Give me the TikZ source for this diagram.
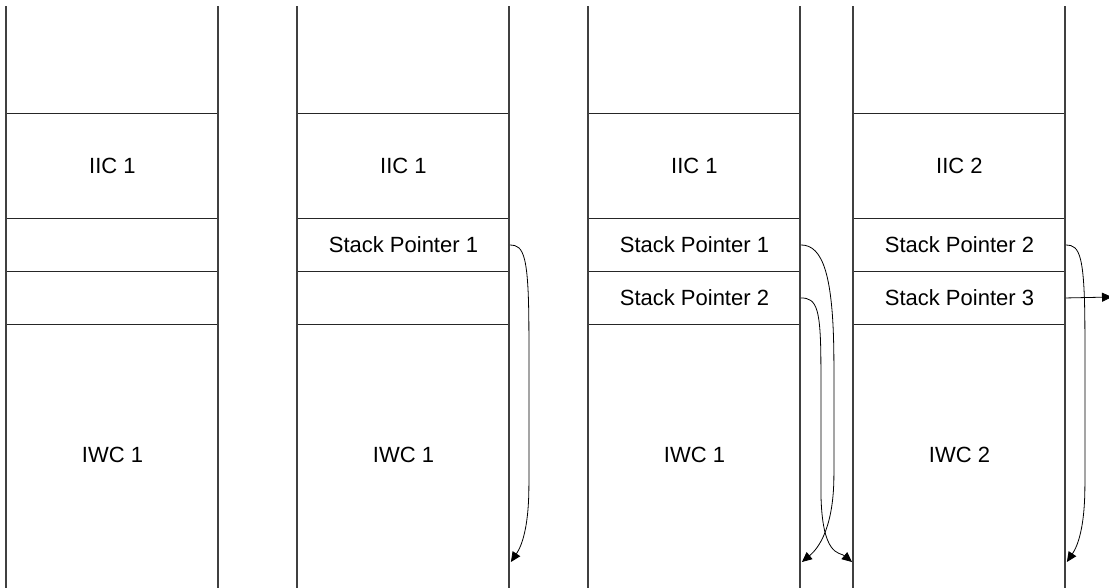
\documentclass[tikz,border=0pt]{standalone}
\usepackage{fontspec}
\setmainfont{Liberation Sans}
\usetikzlibrary{arrows.meta,calc}
\begin{document}
\begin{tikzpicture}[x=1pt,y=-1pt,
  wall/.style={draw=black!75,line width=1.1pt},
  cell/.style={draw=black!85,line width=0.9pt,minimum width=212pt,minimum height=53pt,inner sep=0pt,anchor=north west,font=\fontsize{22}{26}\selectfont},
  open/.style={cell,draw=none},
  label/.style={font=\fontsize{22}{26}\selectfont},
  link/.style={draw=black,line width=0.8pt,-{Triangle[length=10pt,width=9pt]}},
]
\useasboundingbox (0,0) rectangle (1109,587);
\clip (0,0) rectangle (1109,587);

% columns: left edges 6, 297, 588, 853
\foreach \x/\n in {6/a,297/b,588/c,853/d}{
  \node[open,minimum height=107pt] (\n top) at (\x,6) {};
  \node[cell,minimum height=105pt] (\n iic) at (\x,113) {};
  \node[cell] (\n sp1) at (\x,218) {};
  \node[cell] (\n sp2) at (\x,271) {};
  \node[open,minimum height=270pt] (\n iwc) at (\x,324) {};
  \draw[wall] (\x,6) -- (\x,600);
  \draw[wall] (\x+212,6) -- (\x+212,600);
}

% labels
\foreach \n in {a,b,c}{
  \node[label] at (\n iic.center) {IIC 1};
  \node[label] at ($(\n iwc.north)+(0,131)$) {IWC 1};
}
\node[label] at (diic.center) {IIC 2};
\node[label] at ($(diwc.north)+(0,131)$) {IWC 2};

\node[label] at (bsp1.center) {Stack Pointer 1};
\node[label] at (csp1.center) {Stack Pointer 1};
\node[label] at (csp2.center) {Stack Pointer 2};
\node[label] at (dsp1.center) {Stack Pointer 2};
\node[label] at (dsp2.center) {Stack Pointer 3};

% end points on the walls
\coordinate (bend) at ($(biwc.north east)+(1,238)$);
\coordinate (cend) at ($(ciwc.north east)+(1,238)$);
\coordinate (dfar) at ($(diwc.north west)+(-1,238)$);
\coordinate (dend) at ($(diwc.north east)+(1,238)$);
\coordinate (out) at (1112,297);

% stack pointer links
\draw[link] (bsp1.east) .. controls +(14,0) and +(0,-80) .. ++(19,90)
  -- ++(0,150) .. controls +(0,50) and +(8,-12) .. (bend);
\draw[link] (csp1.east) .. controls +(22,0) and +(0,-90) .. ++(33,120)
  -- ++(0,110) .. controls +(0,60) and +(12,-10) .. (cend);
\draw[link] (csp2.east) .. controls +(16,0) and +(0,-60) .. ++(20,70)
  -- ++(0,120) .. controls +(0,70) and +(-12,-10) .. (dfar);
\draw[link] (dsp1.east) .. controls +(14,0) and +(0,-80) .. ++(19,90)
  -- ++(0,150) .. controls +(0,50) and +(8,-12) .. (dend);
\draw[link] (dsp2.east) -- (out);
\end{tikzpicture}
\end{document}
